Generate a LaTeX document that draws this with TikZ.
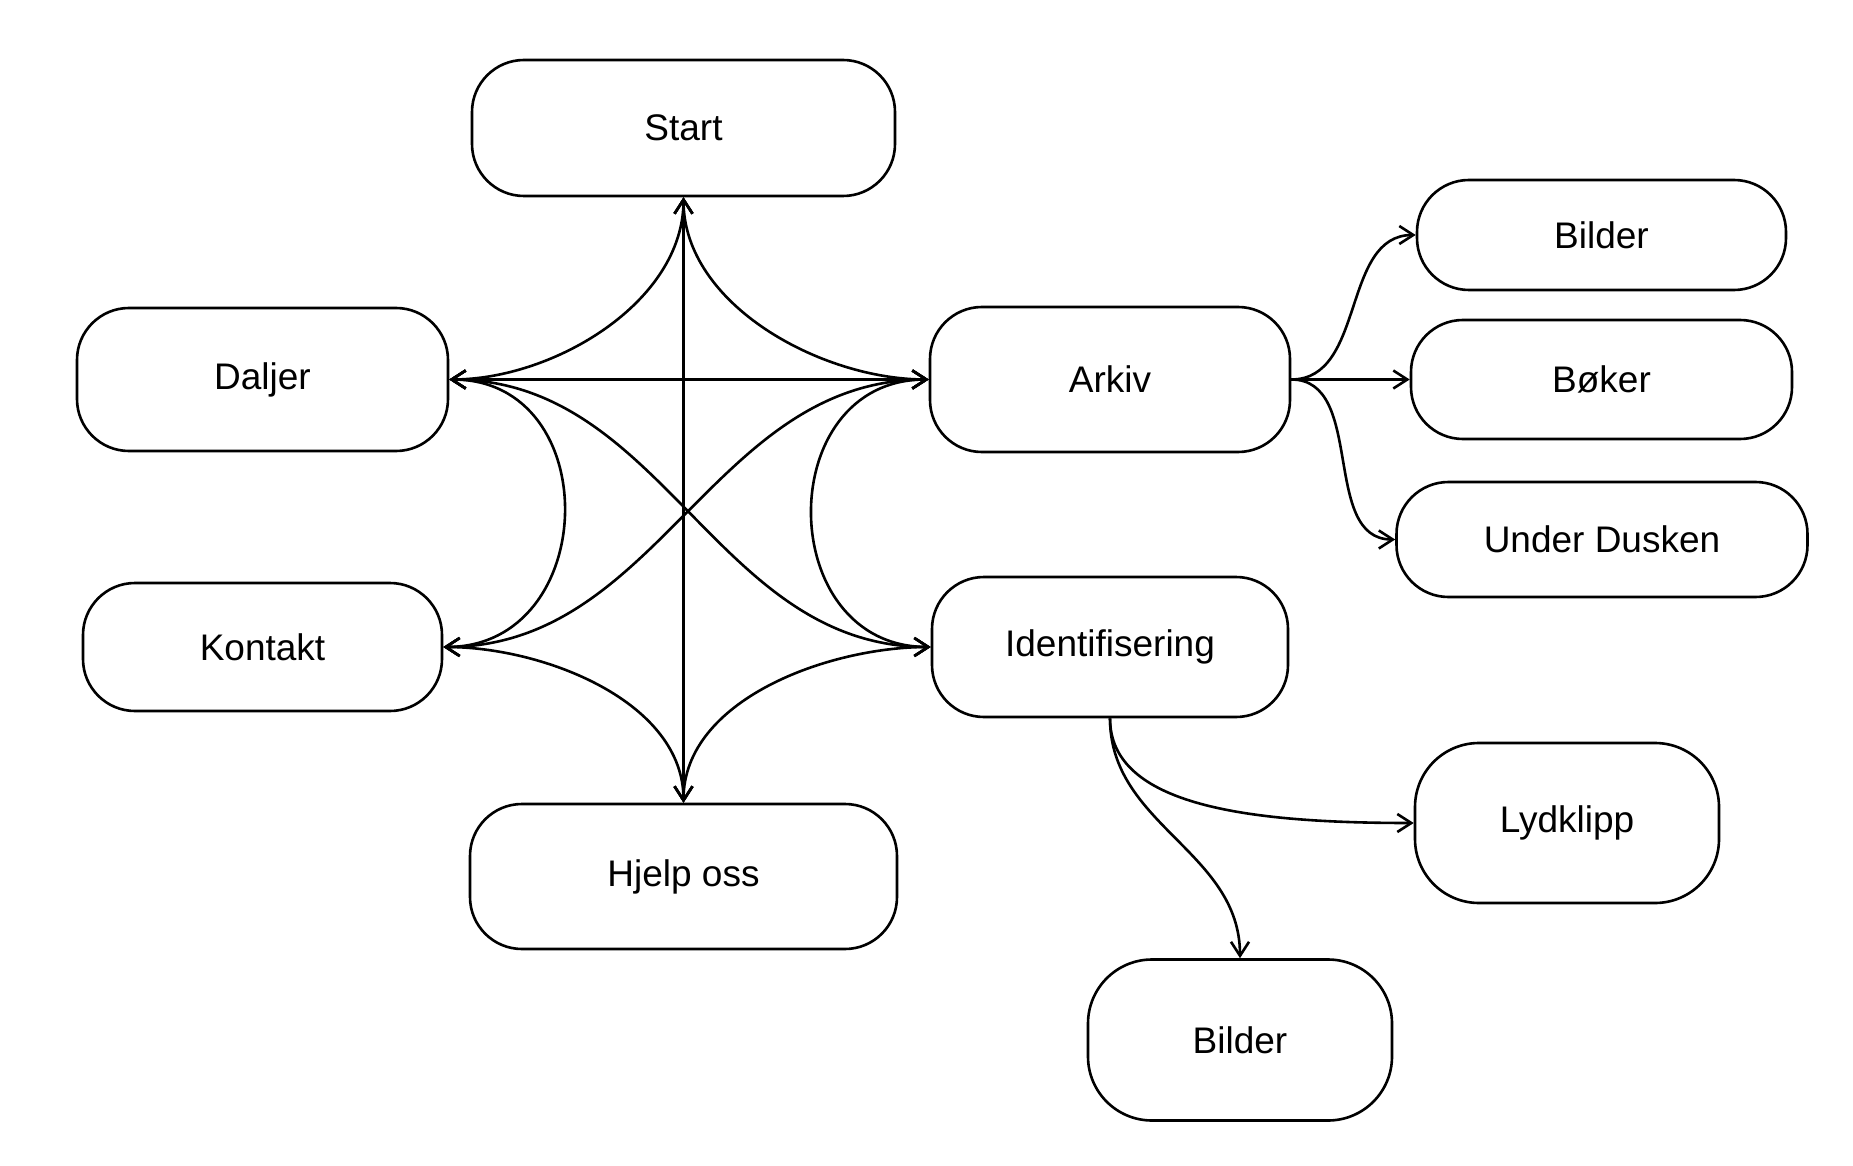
\documentclass[tikz,border=0pt]{standalone}
\usepackage{fontspec}
\setmainfont{Liberation Sans}
\usetikzlibrary{arrows.meta}
\begin{document}
\begin{tikzpicture}[x=0.5pt,y=0.5pt,
  box/.style={draw, line width=1.3pt, rounded corners=26pt, inner sep=0pt, font=\fontsize{18.5}{22}\selectfont},
  tallbox/.style={box, rounded corners=32pt},
  conn/.style={line width=1.3pt, -{Straight Barb[length=7pt,width=9pt]}},
  biconn/.style={line width=1.3pt, {Straight Barb[length=7pt,width=9pt]}-{Straight Barb[length=7pt,width=9pt]}}]
\useasboundingbox (0,0) rectangle (1853,-1166);
\fill[white] (0,0) rectangle (1853,-1166);

\node[box, minimum width=211.5pt, minimum height=68pt] (start) at (683.5,-128) {Start};
\node[box, minimum width=185.5pt, minimum height=71.5pt] (daljer) at (262.5,-379.5) {Daljer};
\node[box, minimum width=180pt, minimum height=72.5pt] (arkiv) at (1110,-379.5) {Arkiv};
\node[box, minimum width=184.5pt, minimum height=55pt] (bilderA) at (1601.5,-235) {Bilder};
\node[box, minimum width=190.5pt, minimum height=59.5pt] (boker) at (1601.5,-379.5) {Bøker};
\node[box, minimum width=205.5pt, minimum height=57.5pt] (under) at (1602,-539.5) {Under Dusken};
\node[box, minimum width=179.5pt, minimum height=64pt] (kontakt) at (262.5,-647) {Kontakt};
\node[box, minimum width=178pt, minimum height=70pt] (ident) at (1110,-647) {Identifisering};
\node[tallbox, minimum width=152pt, minimum height=80pt] (lyd) at (1567,-823) {Lydklipp};
\node[box, minimum width=213.5pt, minimum height=72.5pt] (hjelp) at (683.5,-876.5) {Hjelp oss};
\node[tallbox, minimum width=152pt, minimum height=80.5pt] (bilderB) at (1240,-1040) {Bilder};

% hub connectors
\draw[biconn] (start.south) -- (hjelp.north);
\draw[biconn] (start.south) to[out=-90,in=0,looseness=0.9] (daljer.east);
\draw[biconn] (start.south) to[out=-90,in=180,looseness=0.9] (arkiv.west);
\draw[biconn] (daljer.east) -- (arkiv.west);
\draw[biconn] (daljer.east) to[out=0,in=0,looseness=1.5] (kontakt.east);
\draw[biconn] (daljer.east) to[out=0,in=180] (ident.west);
\draw[biconn] (arkiv.west) to[out=180,in=0] (kontakt.east);
\draw[biconn] (arkiv.west) to[out=180,in=180,looseness=1.5] (ident.west);
\draw[biconn] (kontakt.east) to[out=0,in=90,looseness=0.9] (hjelp.north);
\draw[biconn] (ident.west) to[out=180,in=90,looseness=0.9] (hjelp.north);

% right side
\draw[conn] (arkiv.east) to[out=0,in=180] (bilderA.west);
\draw[conn] (arkiv.east) -- (boker.west);
\draw[conn] (arkiv.east) to[out=0,in=180] (under.west);
\draw[conn] (ident.south) to[out=-90,in=180,out looseness=0.7,in looseness=1.3] (lyd.west);
\draw[conn] (ident.south) to[out=-90,in=90] (bilderB.north);
\end{tikzpicture}
\end{document}
